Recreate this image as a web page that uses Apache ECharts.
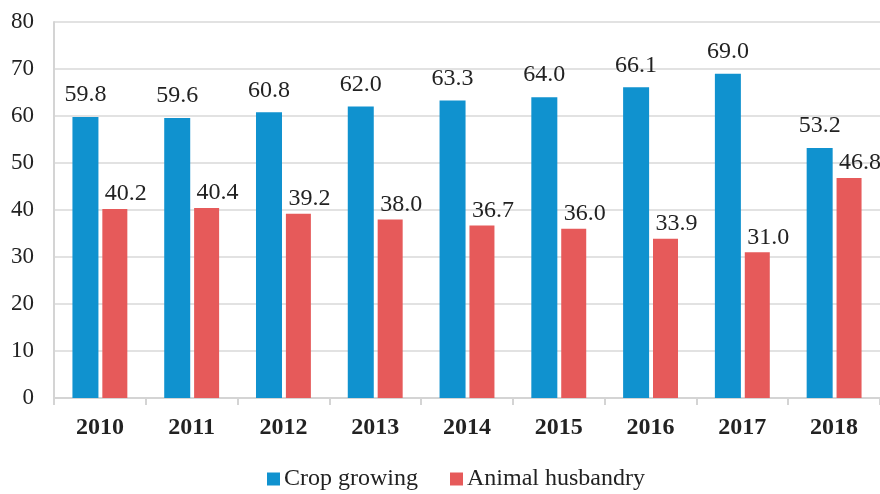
<!DOCTYPE html>
<html lang="en">
<head>
<meta charset="UTF-8">
<title>Crop growing vs Animal husbandry</title>
<script src="https://cdn.jsdelivr.net/npm/echarts@6/dist/echarts.min.js"></script>
<style>
  html, body { margin: 0; padding: 0; background: #fff; }
  #chart { width: 880px; height: 494px; }
</style>
</head>
<body>
<div id="chart"></div>
<script>
var years = ['2010', '2011', '2012', '2013', '2014', '2015', '2016', '2017', '2018'];
var crop = [59.8, 59.6, 60.8, 62.0, 63.3, 64.0, 66.1, 69.0, 53.2];
var animal = [40.2, 40.4, 39.2, 38.0, 36.7, 36.0, 33.9, 31.0, 46.8];

var serif = '"Liberation Serif", "DejaVu Serif", serif';
var chart = echarts.init(document.getElementById('chart'));

var option = {
  animation: false,
  textStyle: { fontFamily: serif },
  grid: { left: 54, right: 0, top: 22, bottom: 96 },
  legend: {
    bottom: -2,
    left: 262,
    itemWidth: 13,
    itemHeight: 13,
    itemGap: 32,
    icon: 'rect',
    textStyle: { fontFamily: serif, fontSize: 24, color: '#222', padding: [0, 0, 0, -1] },
    data: ['Crop growing', 'Animal husbandry']
  },
  xAxis: {
    type: 'category',
    data: years,
    axisLine: { lineStyle: { color: '#d4d4d4', width: 2 } },
    axisTick: { show: true, length: 7, lineStyle: { color: '#d4d4d4', width: 2 } },
    axisLabel: { fontFamily: serif, fontSize: 24, fontWeight: 'bold', color: '#222', margin: 18 }
  },
  yAxis: {
    type: 'value',
    min: 0,
    max: 80,
    interval: 10,
    axisLine: { show: true, lineStyle: { color: '#d4d4d4', width: 2 } },
    axisTick: { show: false },
    splitLine: { lineStyle: { color: '#d9d9d9', width: 1.5 } },
    axisLabel: { fontFamily: serif, fontSize: 23, color: '#222', margin: 20 }
  },
  series: [
    {
      name: 'Crop growing',
      type: 'bar',
      data: crop,
      barWidth: 26,
      barGap: '15%',
      itemStyle: { color: '#1092cf' },
      label: {
        show: true, position: 'top', distance: 10,
        fontFamily: serif, fontSize: 24, color: '#222',
        formatter: function (p) { return p.value.toFixed(1); }
      }
    },
    {
      name: 'Animal husbandry',
      type: 'bar',
      data: animal,
      barWidth: 25,
      itemStyle: { color: '#e65a5a' },
      label: {
        show: true, position: 'top', distance: 3, offset: [11, 0],
        fontFamily: serif, fontSize: 24, color: '#222',
        formatter: function (p) { return p.value.toFixed(1); }
      }
    }
  ]
};
chart.setOption(option);
</script>
</body>
</html>
